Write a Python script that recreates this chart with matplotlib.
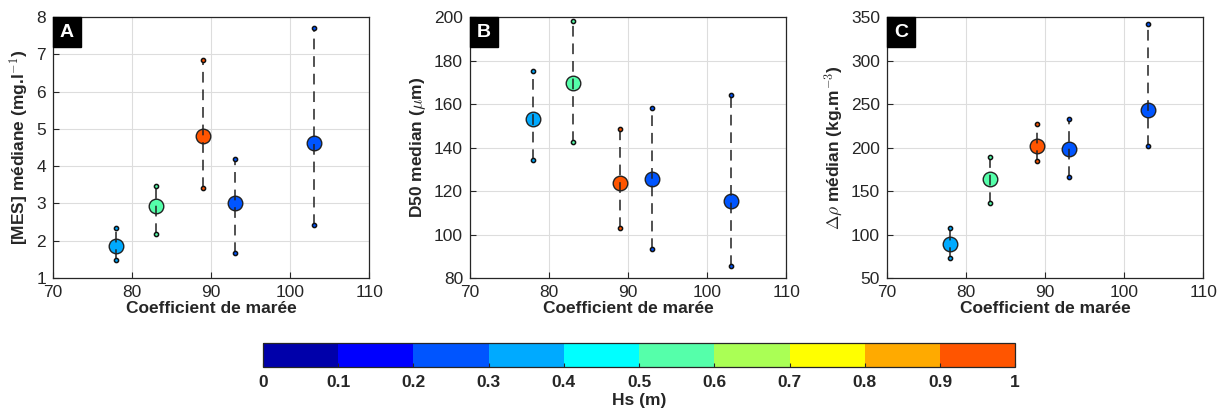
import numpy as np
import matplotlib.pyplot as plt
from matplotlib.colors import ListedColormap, BoundaryNorm
from matplotlib.colorbar import ColorbarBase
from matplotlib.patches import Rectangle

plt.rcParams['font.family'] = ['Liberation Sans', 'DejaVu Sans']
plt.rcParams['mathtext.fontset'] = 'cm'

# données
coef = [78, 83, 89, 93, 103]
hs = [0.35, 0.55, 0.95, 0.25, 0.25]

mes_med = [1.87, 2.92, 4.80, 3.02, 4.63]
mes_min = [1.48, 2.17, 3.42, 1.67, 2.42]
mes_max = [2.33, 3.47, 6.85, 4.20, 7.72]

d50_med = [153.1, 169.7, 123.5, 125.7, 115.4]
d50_min = [134.3, 142.8, 102.8, 93.3, 85.4]
d50_max = [175.3, 198.3, 148.4, 158.0, 164.4]

rho_med = [89.0, 164.2, 201.7, 198.6, 243.2]
rho_min = [72.6, 136.5, 184.6, 166.4, 202.0]
rho_max = [107.9, 188.7, 227.4, 233.0, 342.5]

# jet(10) façon MATLAB
jet10 = ['#0000AA', '#0000FF', '#0055FF', '#00AAFF', '#00FFFF',
         '#55FFAA', '#AAFF55', '#FFFF00', '#FFAA00', '#FF5500']
cmap = ListedColormap(jet10)
bounds = np.linspace(0, 1, 11)
norm = BoundaryNorm(bounds, cmap.N)

fig = plt.figure(figsize=(12.29, 4.16), dpi=100)

panels = [
    ('A', mes_med, mes_min, mes_max, (1, 8), np.arange(1, 9, 1),
     r'[MES] médiane (mg.l$^{\mathbf{-1}}$)', 0.0431),
    ('B', d50_med, d50_min, d50_max, (80, 200), np.arange(80, 201, 20),
     r'D50 median ($\mu$m)', 0.3824),
    ('C', rho_med, rho_min, rho_max, (50, 350), np.arange(50, 351, 50),
     r'$\Delta\rho$ médian (kg.m$^{\mathbf{-3}}$)', 0.7217),
]

for lettre, med, vmin, vmax, ylim, yticks, ylab, left in panels:
    ax = fig.add_axes([left, 0.3317, 0.2575, 0.627])
    for i in range(len(coef)):
        col = cmap(norm(hs[i]))
        ax.plot([coef[i], coef[i]], [vmin[i], vmax[i]], color='#222222',
                lw=1.1, dashes=(7, 4.5), zorder=4)
        ax.scatter([coef[i], coef[i]], [vmin[i], vmax[i]], s=9, color=col,
                   edgecolors='#111111', linewidths=1.1, zorder=5)
        ax.scatter(coef[i], med[i], s=110, color=col, edgecolors='#222222',
                   linewidths=1.0, zorder=3)
    ax.set_xlim(70, 110)
    ax.set_xticks([70, 80, 90, 100, 110])
    ax.set_ylim(*ylim)
    ax.set_yticks(yticks)
    ax.grid(True, color='#dddddd', lw=0.8)
    ax.set_axisbelow(True)
    ax.tick_params(direction='in', length=4, labelsize=12.5, colors='#262626',
                   top=False, right=False, pad=5)
    for s in ax.spines.values():
        s.set_color('#262626')
        s.set_linewidth(0.9)
    ax.set_xlabel('Coefficient de marée', fontsize=12.5, fontweight='bold',
                  color='#262626', labelpad=1)
    ax.set_ylabel(ylab, fontsize=12.5, fontweight='bold', color='#262626',
                  labelpad=4)
    ax.add_patch(Rectangle((0, 0.885), 0.089, 0.115, transform=ax.transAxes,
                           color='black', zorder=6, clip_on=False))
    ax.text(0.0445, 0.9425, lettre, transform=ax.transAxes, color='white',
            fontsize=14, fontweight='bold', ha='center', va='center', zorder=7)

cax = fig.add_axes([0.214, 0.118, 0.612, 0.058])
cb = ColorbarBase(cax, cmap=cmap, norm=norm, orientation='horizontal',
                  boundaries=bounds, ticks=bounds)
cb.set_ticklabels(['0', '0.1', '0.2', '0.3', '0.4', '0.5', '0.6', '0.7',
                   '0.8', '0.9', '1'])
cb.outline.set_linewidth(0.9)
cb.outline.set_edgecolor('#262626')
cax.tick_params(direction='in', length=3, labelsize=12.5, pad=6,
                colors='#262626')
for t in cax.get_xticklabels():
    t.set_fontweight('bold')
cb.set_label('Hs (m)', fontsize=12.5, fontweight='bold', color='#262626',
             labelpad=2)

fig.savefig('out.png', dpi=100)
